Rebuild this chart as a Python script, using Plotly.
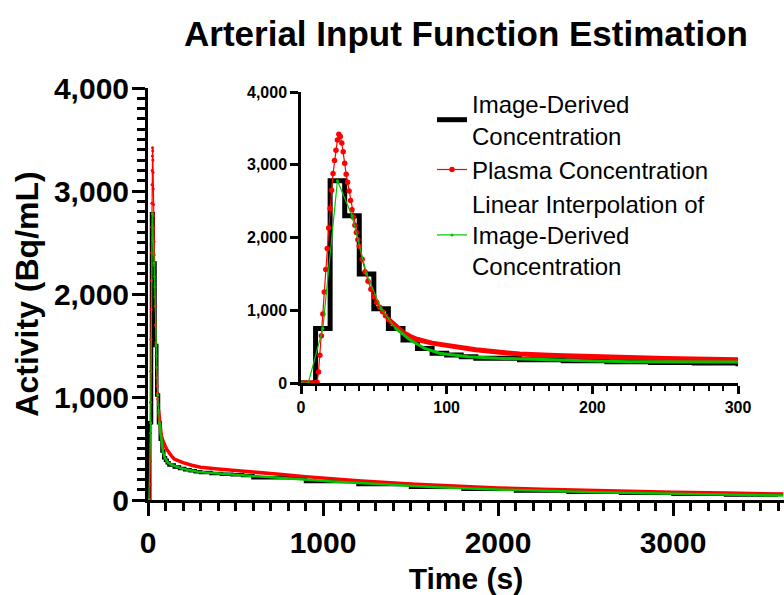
import plotly.graph_objects as go

# ---------------- data ----------------
# Image-derived concentration: frame start times (s) and frame values (Bq/mL)
frame_start = [0, 10, 20, 30, 40, 50, 60, 70, 80, 90, 100, 110, 120, 150, 180, 210, 240, 270,
               300, 360, 420, 480, 540, 600, 900, 1200, 1500, 1800, 2100, 2400, 2700, 3000, 3300]
frame_end_last = 3600
image_values = [0, 750, 2780, 2300, 1500, 1020, 750, 590, 475, 410, 385, 362, 340, 320, 305, 293, 283, 274,
                266, 258, 251, 244, 237, 215, 180, 150, 124, 104, 88, 75, 65, 56, 48]

# Plasma concentration (sampled)
plasma_t = [0, 2, 4, 6, 8, 10, 11, 12, 13, 14, 15, 16, 17, 18, 19, 20, 21, 22, 23, 24, 25, 26, 27, 28,
            29, 30, 31, 32, 33, 34, 35, 36, 37, 38, 39, 40, 42, 44, 46, 48, 50, 52, 54, 56, 58, 60,
            65, 70, 75, 80, 90, 100, 110, 120, 135, 150, 175, 200, 250, 300, 400, 500, 600, 750, 900,
            1000, 1200, 1500, 1800, 2000, 2250, 2500, 2750, 3000, 3300, 3630]
plasma_v = [0, 0, 0, 0, 0, 0, 10, 150, 380, 650, 950, 1250, 1560, 1850, 2130, 2400, 2650, 2880, 3060,
            3200, 3340, 3420, 3390, 3300, 3180, 3020, 2870, 2760, 2640, 2510, 2380, 2280, 2170, 2070,
            1970, 1880, 1700, 1530, 1400, 1290, 1190, 1110, 1040, 980, 925, 875,
            775, 695, 640, 598, 548, 515, 485, 458, 425, 398, 378, 362, 338, 318, 300, 287, 275, 250,
            227, 212, 186, 155, 129, 117, 104, 93, 84, 76, 67, 58]

# Linear interpolation of image-derived concentration (knots at frame mid-times)
interp_t = [0, 5, 15, 25, 35, 45, 55, 65, 75, 85, 95, 105, 115, 135, 165, 195, 225, 255, 285,
            330, 390, 450, 510, 570, 750, 1050, 1350, 1650, 1950, 2250, 2550, 2850, 3150, 3450, 3630]
interp_v = [0, 0, 750, 2780, 2300, 1500, 1020, 750, 590, 475, 410, 385, 362, 340, 320, 305, 293, 283, 274,
            266, 258, 251, 244, 237, 215, 180, 150, 124, 104, 88, 75, 65, 56, 48, 44]

names = ["Image-Derived<br>Concentration", "Plasma Concentration",
         "Linear Interpolation of<br>Image-Derived<br>Concentration"]

RED = "#FF0000"
GREEN = "#00C400"
FONT = "Liberation Sans, Arial, Helvetica, sans-serif"

step_x = frame_start + [frame_end_last]
step_y = image_values + [image_values[-1]]

split = 60
p_early = [(t, v) for t, v in zip(plasma_t, plasma_v) if t <= split]
p_tail = [(t, v) for t, v in zip(plasma_t, plasma_v) if t >= split]
g_early = [(t, v) for t, v in zip(interp_t, interp_v) if t <= split + 5]
g_tail = [(t, v) for t, v in zip(interp_t, interp_v) if t >= split + 5]

fig = go.Figure()

for axis, (xa, ya) in enumerate([("x", "y"), ("x2", "y2")]):
    inset = axis == 1
    show = inset
    fig.add_trace(go.Scatter(
        x=step_x, y=step_y, mode="lines", line=dict(color="black", width=5 if inset else 3.5, shape="hv"),
        name=names[0], legendgroup="img", showlegend=show, xaxis=xa, yaxis=ya))
    fig.add_trace(go.Scatter(
        x=[p[0] for p in p_tail], y=[p[1] for p in p_tail], mode="lines",
        line=dict(color=RED, width=5 if inset else 3.5),
        name=names[1], legendgroup="plasma", showlegend=False, xaxis=xa, yaxis=ya))
    fig.add_trace(go.Scatter(
        x=[p[0] for p in p_early], y=[p[1] for p in p_early], mode="lines+markers",
        line=dict(color=RED, width=1.2), marker=dict(color=RED, size=5.5 if inset else 3),
        name=names[1], legendgroup="plasma", showlegend=show, xaxis=xa, yaxis=ya))
    fig.add_trace(go.Scatter(
        x=[p[0] for p in g_tail], y=[p[1] for p in g_tail], mode="lines",
        line=dict(color=GREEN, width=3 if inset else 2.5),
        name=names[2], legendgroup="interp", showlegend=False, xaxis=xa, yaxis=ya))
    fig.add_trace(go.Scatter(
        x=[p[0] for p in g_early], y=[p[1] for p in g_early], mode="lines+markers",
        line=dict(color=GREEN, width=1.2), marker=dict(color=GREEN, size=3),
        name=names[2], legendgroup="interp", showlegend=show, xaxis=xa, yaxis=ya))

W, H = 784, 595
L, R, T, B = 148, 0, 88, 95
pw, ph = W - L - R, H - T - B

def px_x(p):
    return (p - L) / pw

def px_y(p):
    return (H - B - p) / ph

bold30 = dict(family=FONT, size=30, color="black", weight="bold")
bold32 = dict(family=FONT, size=32, color="black", weight="bold")
bold16 = dict(family=FONT, size=16, color="black", weight="bold")

fig.update_layout(
    width=W, height=H,
    margin=dict(l=L, r=R, t=T, b=B, autoexpand=False),
    paper_bgcolor="white", plot_bgcolor="white",
    font=dict(family=FONT, color="black"),
    title=dict(text="Arterial Input Function Estimation", x=466 / W, xref="container", xanchor="center",
               y=1 - 34 / H, yref="container", yanchor="middle",
               font=dict(family=FONT, size=35, color="black", weight="bold")),
    xaxis=dict(domain=[0, 1], range=[0, 3634], showgrid=False, zeroline=False,
               showline=True, linewidth=3, linecolor="black",
               ticks="outside", ticklen=13, tickwidth=3, tickcolor="black",
               tick0=0, dtick=1000, tickformat="d", tickfont=bold30, ticklabelstandoff=1,
               minor=dict(ticks="outside", dtick=100, ticklen=8, tickwidth=2.5, tickcolor="black"),
               title=dict(text="Time (s)", font=bold30, standoff=12)),
    yaxis=dict(domain=[0, 1], range=[0, 4000], showgrid=False, zeroline=False,
               showline=True, linewidth=3, linecolor="black",
               ticks="outside", ticklen=13, tickwidth=3, tickcolor="black",
               tick0=0, dtick=1000, tickformat=",d", tickfont=bold30, ticklabelstandoff=-3,
               minor=dict(ticks="outside", dtick=100, ticklen=8, tickwidth=2.5, tickcolor="black"),
               title=dict(text="Activity (Bq/mL)", font=bold32, standoff=6)),
    xaxis2=dict(domain=[px_x(301), px_x(738)], anchor="y2", range=[0, 300], showgrid=False, zeroline=False,
                showline=True, linewidth=2.5, linecolor="black",
                ticks="outside", ticklen=8, tickwidth=2.5, tickcolor="black",
                tick0=0, dtick=100, tickformat="d", tickfont=bold16,
                minor=dict(ticks="outside", dtick=10, ticklen=5, tickwidth=2, tickcolor="black")),
    yaxis2=dict(domain=[px_y(383), px_y(92)], anchor="x2", range=[0, 4000], showgrid=False, zeroline=False,
                showline=True, linewidth=2.5, linecolor="black",
                ticks="outside", ticklen=8, tickwidth=2.5, tickcolor="black",
                tick0=0, dtick=1000, tickformat=",d", tickfont=bold16),
    legend=dict(x=px_x(432), y=px_y(82), xanchor="left", yanchor="top",
                font=dict(family=FONT, size=24, color="black"),
                bgcolor="rgba(0,0,0,0)", tracegroupgap=0, itemwidth=30),
    showlegend=True,
)

fig.write_html("out.html")
